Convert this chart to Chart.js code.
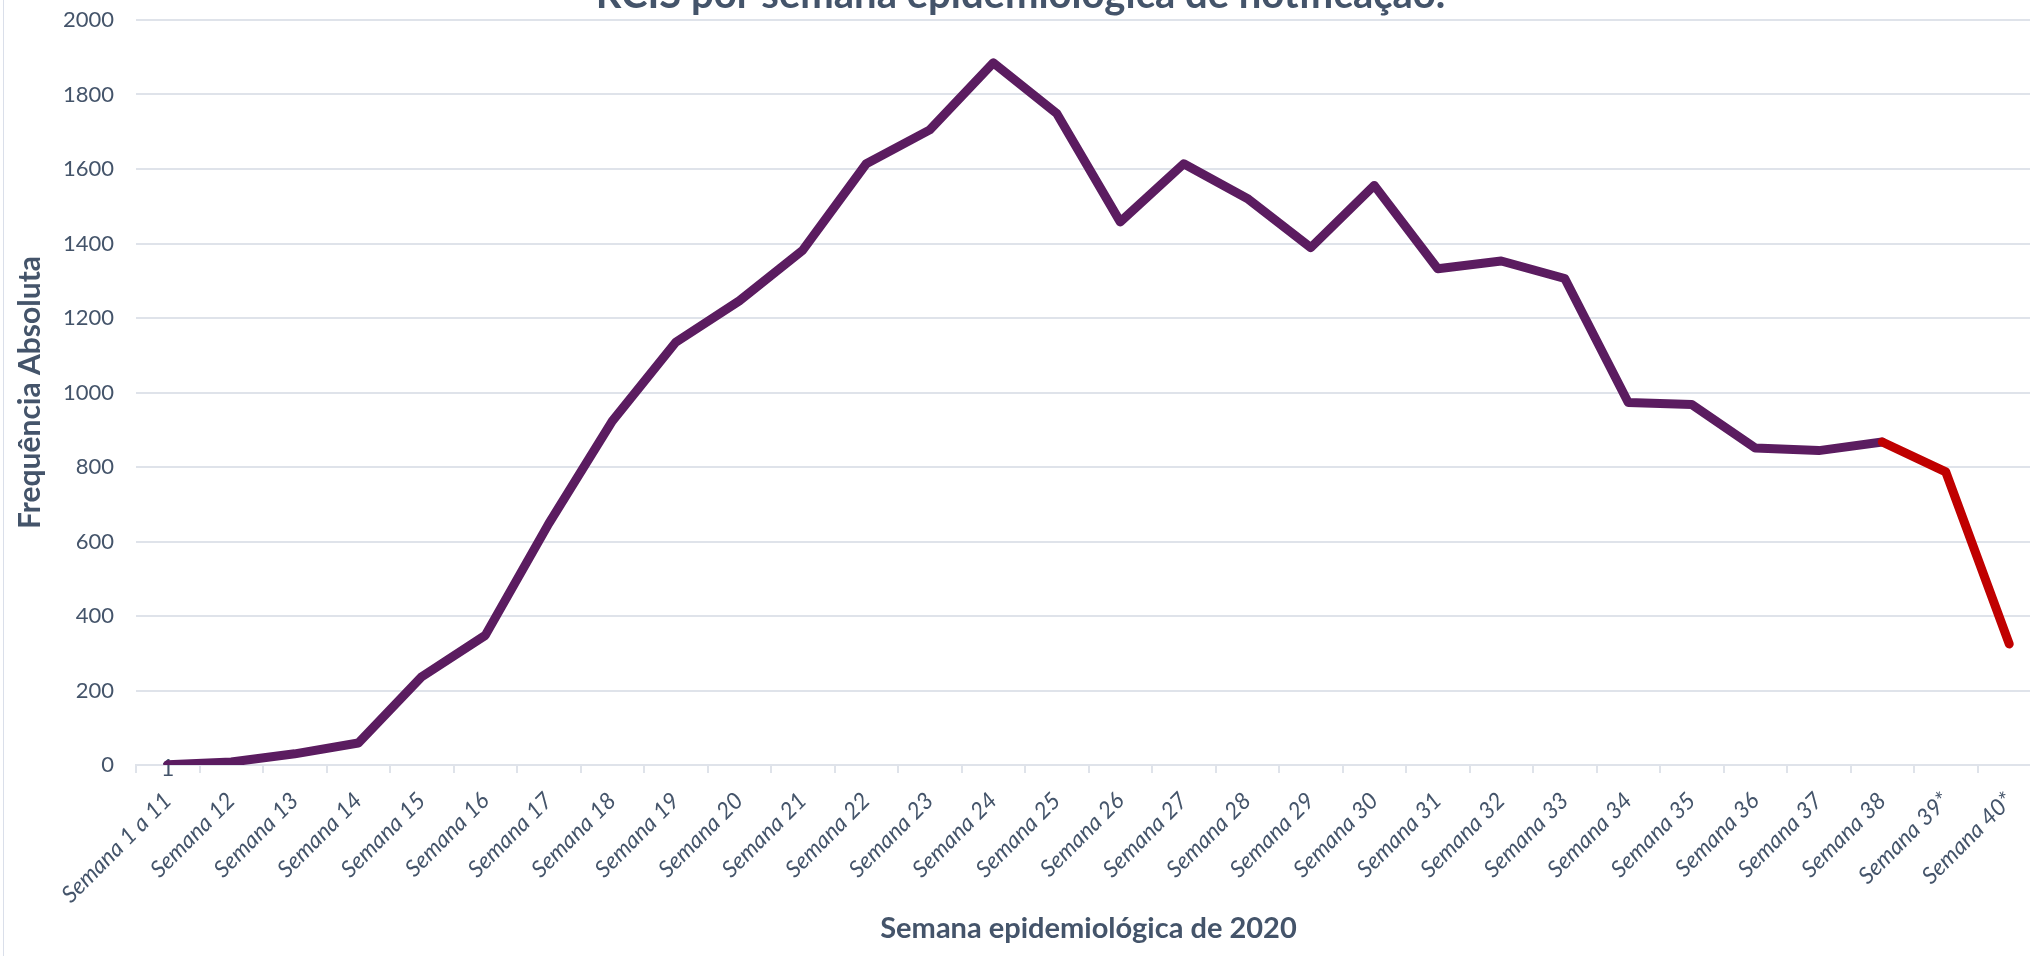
<!DOCTYPE html>
<html>
<head>
<meta charset="utf-8">
<script src="https://cdn.jsdelivr.net/npm/chart.js@4"></script>
<style>
    html, body { margin: 0; padding: 0; background: #fff; }
    #wrap { position: relative; width: 2030px; height: 956px; overflow: hidden; }
    #wrap canvas { position: absolute; left: 0; top: -29px; }
    #edge { position: absolute; left: 3px; top: 0; width: 1px; height: 956px; background: #dadfea; }
</style>
</head>
<body>
<div id="wrap">
    <canvas id="chart" width="2060" height="985"></canvas>
    <div id="edge"></div>
</div>
<script>
// semanas epidemiológicas
const weeks = [
    'Semana 1 a 11', 'Semana 12', 'Semana 13', 'Semana 14', 'Semana 15', 'Semana 16',
    'Semana 17', 'Semana 18', 'Semana 19', 'Semana 20', 'Semana 21', 'Semana 22',
    'Semana 23', 'Semana 24', 'Semana 25', 'Semana 26', 'Semana 27', 'Semana 28',
    'Semana 29', 'Semana 30', 'Semana 31', 'Semana 32', 'Semana 33', 'Semana 34',
    'Semana 35', 'Semana 36', 'Semana 37', 'Semana 38', 'Semana 39*', 'Semana 40*'
];

// frequência absoluta por semana
const counts = [
    1, 8, 30, 59, 237, 348, 648, 923, 1135, 1246, 1382, 1614,
    1705, 1885, 1749, 1458, 1614, 1521, 1389, 1556, 1332, 1353, 1306, 973,
    968, 851, 844, 867, 787, 325
];

// semanas ainda em consolidação (desenhadas a vermelho)
const partialFrom = 'Semana 38';

const yTicks = [0, 200, 400, 600, 800, 1000, 1200, 1400, 1600, 1800, 2000];

const TEXT = '#44546a';
const GRID = '#dfe3ea';
const PURPLE = '#5b1c60';
const RED = '#c00000';
const FONT = 'Lato, "Open Sans", sans-serif';

const partialIndex = weeks.indexOf(partialFrom);

// rótulo de dados só no primeiro ponto
const firstLabel = {
    id: 'firstLabel',
    beforeDatasetsDraw(chart) {
        const pt = chart.getDatasetMeta(0).data[0];
        const ctx = chart.ctx;
        ctx.save();
        ctx.font = '23px ' + FONT;
        ctx.fillStyle = TEXT;
        ctx.textAlign = 'center';
        ctx.textBaseline = 'middle';
        ctx.fillText(String(counts[0]), pt.x, pt.y + 4);
        ctx.restore();
    }
};

new Chart(document.getElementById('chart'), {
    type: 'line',
    data: {
        labels: weeks,
        datasets: [{
            data: counts,
            borderColor: PURPLE,
            borderWidth: 9,
            borderCapStyle: 'round',
            borderJoinStyle: 'round',
            pointRadius: 0,
            pointHoverRadius: 0,
            tension: 0,
            segment: {
                borderColor: (ctx) => ctx.p0DataIndex >= partialIndex ? RED : PURPLE
            }
        }]
    },
    options: {
        responsive: false,
        animation: false,
        layout: { padding: { left: 0, right: 19, top: 0, bottom: 0 } },
        plugins: {
            legend: { display: false },
            tooltip: { enabled: false },
            title: {
                display: true,
                text: 'RCIS por semana epidemiológica de notificação.',
                color: TEXT,
                font: { family: FONT, size: 40, weight: 'bold', lineHeight: 1.2 },
                padding: { top: 0, bottom: 1 }
            }
        },
        scales: {
            x: {
                offset: true,
                afterFit: (scale) => { scale.height = 191; },
                grid: {
                    offset: true,
                    drawOnChartArea: false,
                    drawTicks: true,
                    tickLength: 8,
                    color: GRID,
                    lineWidth: 2
                },
                border: { display: true, color: GRID, width: 2 },
                ticks: {
                    autoSkip: false,
                    minRotation: 45,
                    maxRotation: 45,
                    padding: 14,
                    color: TEXT,
                    font: { family: FONT, size: 23, style: 'italic' }
                },
                title: {
                    display: true,
                    text: 'Semana epidemiológica de 2020',
                    color: TEXT,
                    font: { family: FONT, size: 29, weight: 'bold', lineHeight: 1.2 },
                    padding: { top: 0, bottom: 10 }
                }
            },
            y: {
                min: 0,
                max: 2000,
                afterFit: (scale) => { scale.width = 136; },
                afterBuildTicks: (scale) => {
                    scale.ticks = yTicks.map((v) => ({ value: v }));
                },
                grid: { color: GRID, lineWidth: 2, drawTicks: false },
                border: { display: false },
                ticks: {
                    padding: 22,
                    color: TEXT,
                    font: { family: FONT, size: 22 },
                    callback: (value) => String(value)
                },
                title: {
                    display: true,
                    text: 'Frequência Absoluta',
                    color: TEXT,
                    font: { family: FONT, size: 30, weight: 'bold', lineHeight: 1.2 },
                    padding: { top: 12, bottom: 0 }
                }
            }
        }
    },
    plugins: [firstLabel]
});
</script>
</body>
</html>
